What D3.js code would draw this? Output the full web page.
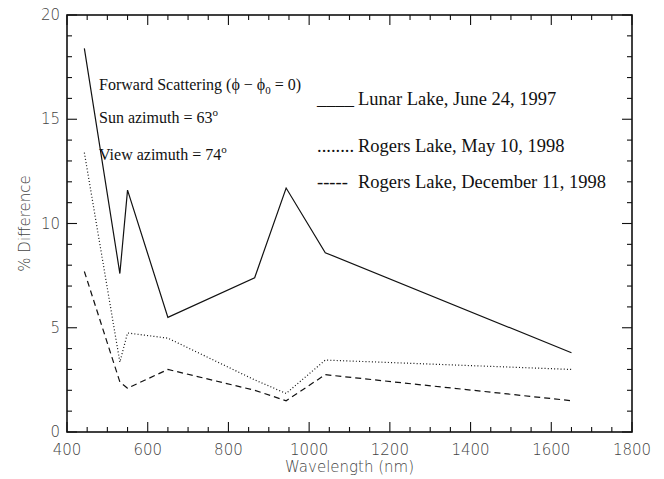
<!DOCTYPE html>
<html>
<head>
<meta charset="utf-8">
<script src="https://cdn.jsdelivr.net/npm/d3@7"></script>
<style>
  html, body { margin: 0; padding: 0; background: #fff; }
  svg { display: block; }
  .tick-label { font-family: "DejaVu Sans", sans-serif; font-size: 15px; font-weight: 200; fill: #444; }
  .axis-title { font-family: "DejaVu Sans", sans-serif; font-size: 15px; font-weight: 200; fill: #444; }
  .serif { font-family: "Liberation Serif", "Times New Roman", serif; fill: #111; }
</style>
</head>
<body>
<svg id="chart" width="664" height="479"></svg>
<script>
// Wavelengths (nm) of the measured bands
const wavelengths = [443, 531, 550, 650, 865, 943, 1040, 1650];
// Percent difference for each campaign
const lunarJun1997 = [18.4, 7.6, 11.6, 5.5, 7.4, 11.7, 8.6, 3.8];
const rogersMay1998 = [13.4, 3.35, 4.75, 4.5, 2.5, 1.85, 3.45, 3.0];
const rogersDec1998 = [7.7, 2.4, 2.1, 3.0, 2.0, 1.5, 2.75, 1.5];

const xTicks = [400, 600, 800, 1000, 1200, 1400, 1600, 1800];
const yTicks = [0, 5, 10, 15, 20];

const svg = d3.select("#chart");
const plot = { left: 67, right: 632, top: 15, bottom: 432 };

const x = d3.scaleLinear().domain([400, 1800]).range([plot.left, plot.right]);
const y = d3.scaleLinear().domain([0, 20]).range([plot.bottom, plot.top]);

const axisColor = "#111";

// Frame
svg.append("rect")
  .attr("x", plot.left).attr("y", plot.top)
  .attr("width", plot.right - plot.left).attr("height", plot.bottom - plot.top)
  .attr("fill", "none").attr("stroke", axisColor).attr("stroke-width", 1.6);

// Ticks pointing inward on all four sides
const xMinor = d3.range(400, 1801, 50);
const yMinor = d3.range(0, 20.01, 1);
const tickG = svg.append("g").attr("stroke", axisColor).attr("stroke-width", 1.1);

xMinor.forEach(v => {
  const len = v % 200 === 0 ? 10 : 5;
  tickG.append("line").attr("x1", x(v)).attr("x2", x(v)).attr("y1", plot.bottom).attr("y2", plot.bottom - len);
  tickG.append("line").attr("x1", x(v)).attr("x2", x(v)).attr("y1", plot.top).attr("y2", plot.top + len);
});
yMinor.forEach(v => {
  const len = v % 5 === 0 ? 10 : 5;
  tickG.append("line").attr("x1", plot.left).attr("x2", plot.left + len).attr("y1", y(v)).attr("y2", y(v));
  tickG.append("line").attr("x1", plot.right).attr("x2", plot.right - len).attr("y1", y(v)).attr("y2", y(v));
});

// Tick labels
svg.append("g").selectAll("text").data(xTicks).join("text")
  .attr("class", "tick-label")
  .attr("x", d => x(d)).attr("y", plot.bottom + 23)
  .attr("text-anchor", "middle")
  .text(d => d);

svg.append("g").selectAll("text").data(yTicks).join("text")
  .attr("class", "tick-label")
  .attr("x", plot.left - 7).attr("y", d => y(d) + 5)
  .attr("text-anchor", "end")
  .text(d => d);

// Axis titles
svg.append("text").attr("class", "axis-title")
  .attr("x", (plot.left + plot.right) / 2).attr("y", 472)
  .attr("text-anchor", "middle")
  .text("Wavelength (nm)");

svg.append("text").attr("class", "axis-title")
  .attr("transform", `translate(30, ${(plot.top + plot.bottom) / 2}) rotate(-90)`)
  .attr("text-anchor", "middle")
  .text("% Difference");

// Data lines
const line = d3.line().x(d => x(d[0])).y(d => y(d[1]));
const series = [
  { values: lunarJun1997, dash: null, width: 1.2 },
  { values: rogersMay1998, dash: "1,2.2", width: 1.2 },
  { values: rogersDec1998, dash: "6,4", width: 1.2 }
];
svg.append("g").selectAll("path").data(series).join("path")
  .attr("d", s => line(wavelengths.map((w, i) => [w, s.values[i]])))
  .attr("fill", "none")
  .attr("stroke", "#111")
  .attr("stroke-width", s => s.width)
  .attr("stroke-dasharray", s => s.dash);

// Geometry annotations
const ann = svg.append("g").attr("class", "serif").attr("font-size", 16);
const t1 = ann.append("text").attr("x", 99).attr("y", 90);
t1.append("tspan").text("Forward Scattering (\u03D5 \u2212 \u03D5");
t1.append("tspan").attr("font-size", 11).attr("dy", 4).text("0");
t1.append("tspan").attr("dy", -4).text(" = 0)");

const t2 = ann.append("text").attr("x", 99).attr("y", 123);
t2.append("tspan").text("Sun azimuth = 63");
t2.append("tspan").attr("font-size", 11).attr("dy", -7).text("o");

const t3 = ann.append("text").attr("x", 99).attr("y", 160);
t3.append("tspan").text("View azimuth = 74");
t3.append("tspan").attr("font-size", 11).attr("dy", -7).text("o");

// Legend
const legendItems = [
  { key: "____", label: "Lunar Lake, June 24, 1997", y: 105 },
  { key: "........", label: "Rogers Lake, May 10, 1998", y: 152 },
  { key: "-----", label: "Rogers Lake, December 11, 1998", y: 188 }
];
const leg = svg.append("g").attr("class", "serif").attr("font-size", 18.5);
legendItems.forEach(it => {
  leg.append("text").attr("x", 317).attr("y", it.y).text(it.key);
  leg.append("text").attr("x", 358).attr("y", it.y).text(it.label);
});
</script>
</body>
</html>
